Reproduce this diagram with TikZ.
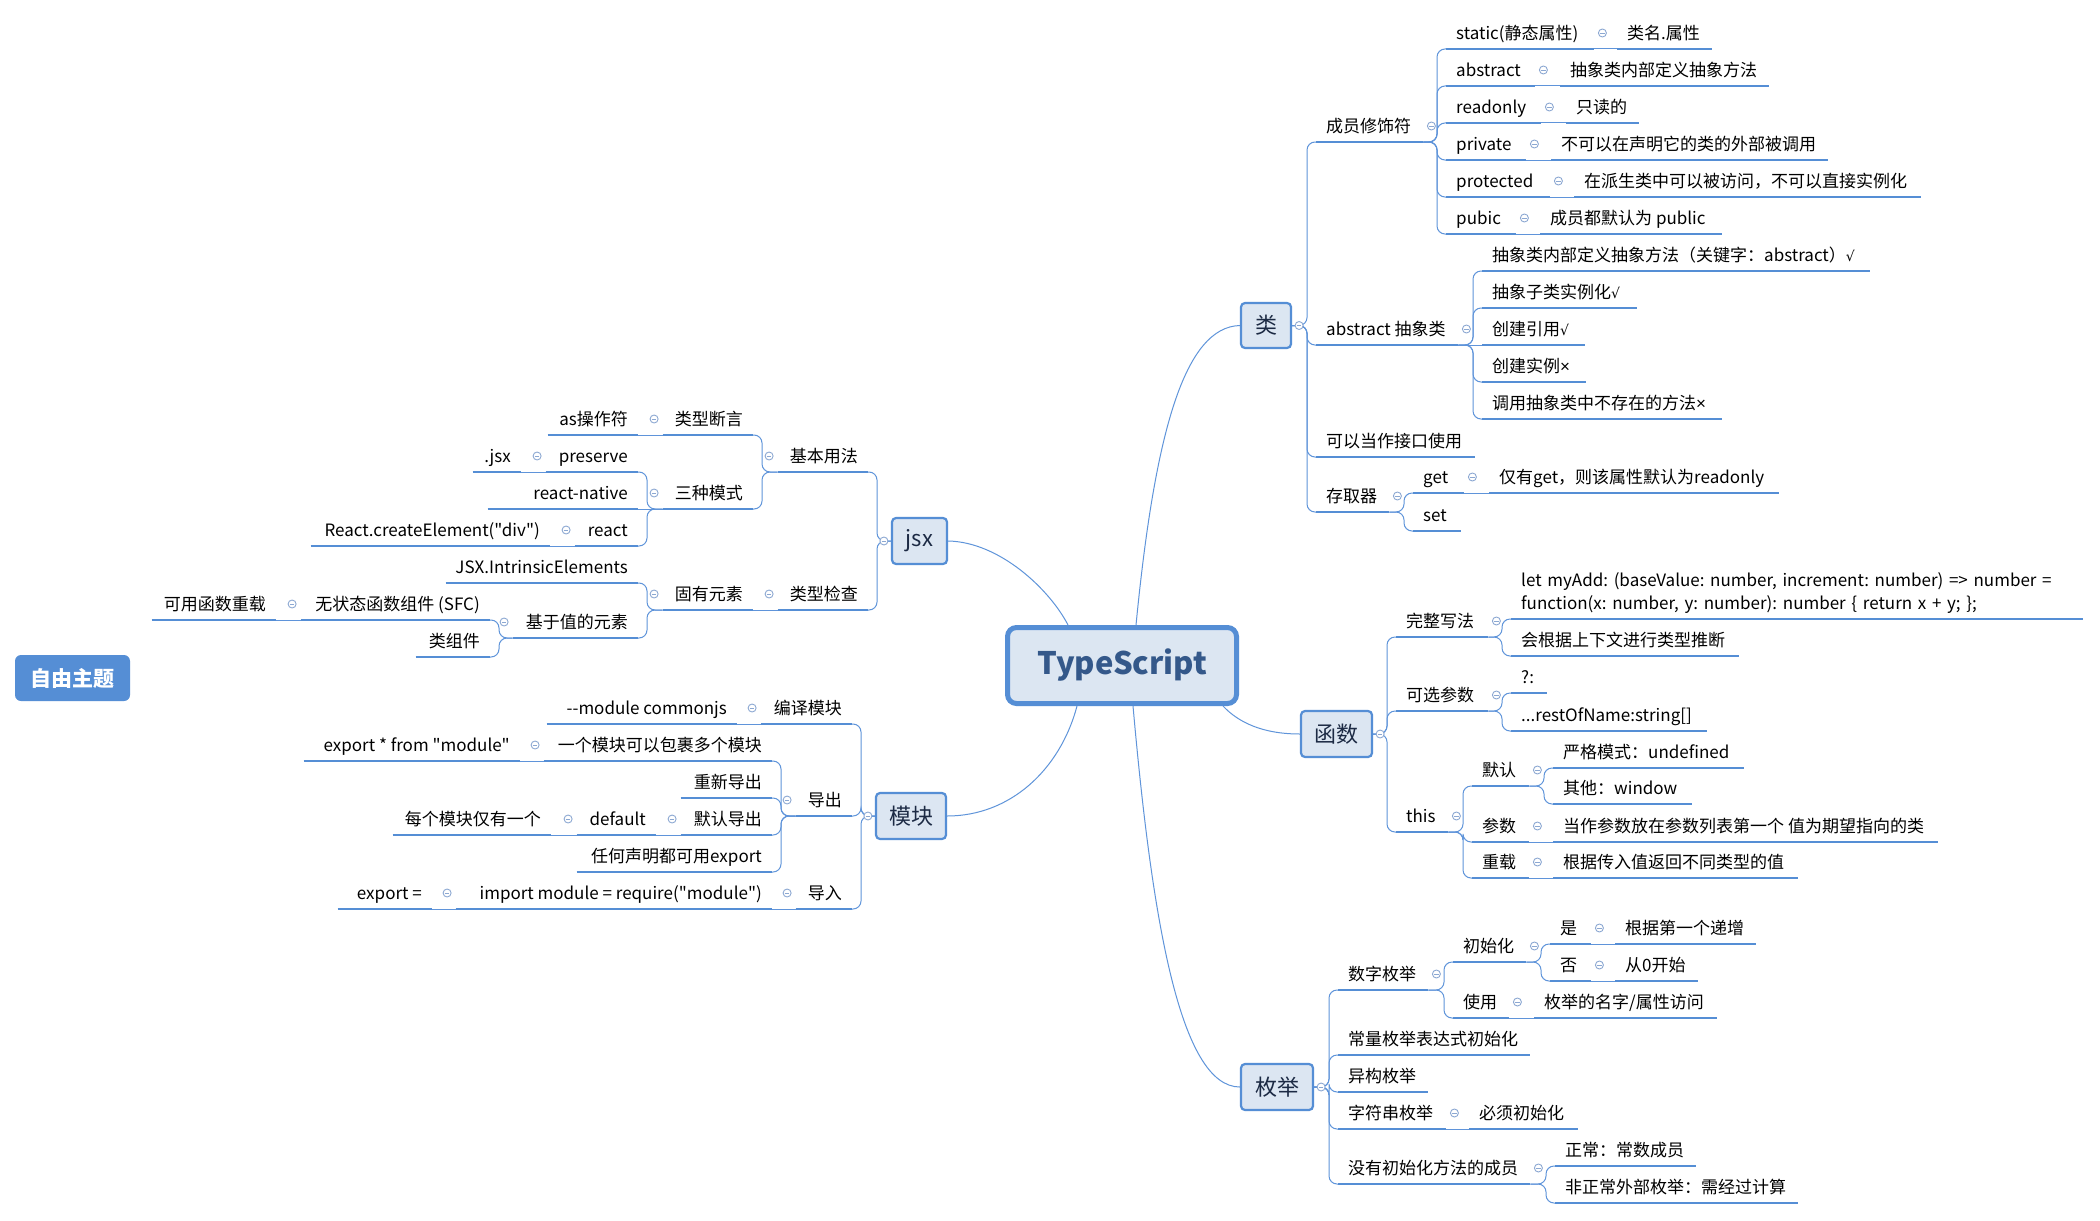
\documentclass[tikz,border=0pt]{standalone}
\usepackage{fontspec}
\newfontfamily\cjk{Noto Sans CJK SC}
\newfontfamily\sym{DejaVu Sans}
\newfontfamily\lib{Liberation Sans}
\frenchspacing
\newcommand\ok{{\sym\fontsize{14}{17}\selectfont √}}
\newcommand\no{{\lib ×}}
\definecolor{ubl}{RGB}{85,142,213}
\definecolor{cbl}{RGB}{95,148,218}
\definecolor{bfill}{RGB}{220,230,242}
\definecolor{btext}{RGB}{28,42,68}
\definecolor{tstext}{RGB}{52,88,138}
\definecolor{icl}{RGB}{140,168,210}
\tikzset{
  uline/.style={draw=ubl, line width=2.6pt},
  topic/.style={inner xsep=10pt, inner ysep=0pt, text height=13pt, text depth=9.5pt,
    font=\cjk\frenchspacing\fontsize{17}{20}\selectfont,
    append after command={(\tikzlastnode.south west) edge[uline] (\tikzlastnode.south east)}},
  conn/.style={draw=cbl, line width=1pt, rounded corners=8pt},
  mainconn/.style={draw=cbl, line width=1pt},
  mainbox/.style={draw=ubl, line width=2.2pt, fill=bfill, rounded corners=4pt, text=btext,
    font=\cjk\fontsize{22}{26}\selectfont, inner sep=0pt},
  coll/.pic={\draw[draw=icl, line width=0.9pt, fill=white] (0,0) circle (4pt);
             \draw[draw=icl, line width=0.9pt] (-2.2pt,0pt) -- (2.2pt,0pt);}
}
% right-side topic: name, x1, x2, y of underline, text
\newcommand\RT[5]{\pgfmathsetmacro\tw{#3-#2-20}\node[topic,anchor=south west] (#1) at (#2,#4) {\makebox[\tw pt][l]{#5}};}
% left-side topic
\newcommand\LT[5]{\pgfmathsetmacro\tw{#3-#2-20}\node[topic,anchor=south east] (#1) at (#3,#4) {\makebox[\tw pt][r]{#5}};}
% connectors
\newcommand\cR[2]{\draw[conn] (#1.south east) -| ([xshift=-9pt]#2.south west) -- (#2.south west);}
\newcommand\cL[2]{\draw[conn] (#1.south west) -| ([xshift=9pt]#2.south east) -- (#2.south east);}
\newcommand\bR[2]{\draw[conn] (#1.east) -| ([xshift=-9pt]#2.south west) -- (#2.south west);}
\newcommand\bL[2]{\draw[conn] (#1.west) -| ([xshift=9pt]#2.south east) -- (#2.south east);}
\newcommand\sR[2]{\draw[conn] (#1.south east) -- (#2.south west);}
\newcommand\sL[2]{\draw[conn] (#1.south west) -- (#2.south east);}
% collapse icons
\newcommand\iR[1]{\pic at ([xshift=8pt,yshift=16pt]#1.south east) {coll};}
\newcommand\iL[1]{\pic at ([xshift=-8.5pt,yshift=16pt]#1.south west) {coll};}
\begin{document}
\begin{tikzpicture}[x=1pt,y=-1pt]
\fill[white] (0,0) rectangle (2100,1220);
\useasboundingbox (0,0) rectangle (2100,1220);

% ---------- main boxes ----------
\node[mainbox, line width=5pt, rounded corners=9pt, minimum width=229pt, minimum height=76pt,
      font=\cjk\bfseries\fontsize{31}{36}\selectfont, text=tstext] (ts) at (1122,665.5) {TypeScript};
\node[mainbox, minimum width=50pt, minimum height=45pt] (lei) at (1266,325.5) {类};
\node[mainbox, minimum width=71pt, minimum height=46pt] (fn) at (1336.5,734) {函数};
\node[mainbox, minimum width=72pt, minimum height=46pt] (en) at (1277,1087) {枚举};
\node[mainbox, minimum width=55pt, minimum height=46pt] (jx) at (919.5,541) {jsx};
\node[mainbox, minimum width=70pt, minimum height=46pt] (mk) at (911,816) {模块};
\node[fill=ubl, rounded corners=6pt, text=white, font=\cjk\bfseries\fontsize{21}{24}\selectfont,
      minimum width=115pt, minimum height=46pt, inner sep=0pt] (free) at (72.5,678) {自由主题};

% ---------- 类 ----------
\RT{c1}{1316}{1423}{142}{成员修饰符}
\RT{c1a}{1446}{1594}{49}{static(静态属性)}
\RT{c1aa}{1617}{1712}{49}{类名.属性}
\RT{c1b}{1446}{1535}{86}{abstract}
\RT{c1bb}{1560}{1769}{86}{抽象类内部定义抽象方法}
\RT{c1c}{1446}{1541}{123}{readonly}
\RT{c1cc}{1566}{1639}{123}{只读的}
\RT{c1d}{1446}{1526}{160}{private}
\RT{c1dd}{1551}{1828}{160}{不可以在声明它的类的外部被调用}
\RT{c1e}{1446}{1550}{197}{protected}
\RT{c1ee}{1574}{1921}{197}{在派生类中可以被访问，不可以直接实例化}
\RT{c1f}{1446}{1516}{234}{pubic}
\RT{c1ff}{1540}{1722}{234}{成员都默认为 public}
\RT{c2}{1316}{1458}{345}{abstract 抽象类}
\RT{c2a}{1482}{1870}{271}{抽象类内部定义抽象方法（关键字：abstract）\ok}
\RT{c2b}{1482}{1637}{308}{抽象子类实例化\ok}
\RT{c2c}{1482}{1585}{345}{创建引用\ok}
\RT{c2d}{1482}{1586}{382}{创建实例\no}
\RT{c2e}{1482}{1722}{419}{调用抽象类中不存在的方法\no}
\RT{c3}{1316}{1475}{457}{可以当作接口使用}
\RT{c4}{1316}{1389}{512}{存取器}
\RT{c4a}{1413}{1464}{493}{get}
\RT{c4aa}{1489}{1779}{493}{仅有get，则该属性默认为readonly}
\RT{c4b}{1413}{1461}{531}{set}

% ---------- 函数 ----------
\RT{f1}{1396}{1488}{637}{完整写法}
\node[topic, text height=, text depth=, inner ysep=5.5pt, text width=552pt, align=left,
      anchor=south west, font=\cjk\frenchspacing\fontsize{17}{23}\selectfont] (f1a) at (1511,619)
  {let myAdd: (baseValue: number, increment: number) => number =\\function(x: number, y: number): number \{ return x + y; \};};
\RT{f1b}{1511}{1739}{656}{会根据上下文进行类型推断}
\RT{f2}{1396}{1488}{711}{可选参数}
\RT{f2a}{1511}{1547}{693}{?:}
\RT{f2b}{1511}{1707}{731}{...restOfName:string[]}
\RT{f3}{1396}{1448}{832}{this}
\RT{f3a}{1472}{1529}{786}{默认}
\RT{f3aa}{1553}{1744}{768}{严格模式：undefined}
\RT{f3ab}{1553}{1692}{804}{其他：window}
\RT{f3b}{1472}{1529}{842}{参数}
\RT{f3bb}{1553}{1938}{842}{当作参数放在参数列表第一个 值为期望指向的类}
\RT{f3c}{1472}{1529}{878}{重载}
\RT{f3cc}{1553}{1798}{878}{根据传入值返回不同类型的值}

% ---------- 枚举 ----------
\RT{e1}{1338}{1428}{990}{数字枚举}
\RT{e1a}{1453}{1526}{962}{初始化}
\RT{e1aa}{1550}{1591}{944}{是}
\RT{e1aaa}{1615}{1756}{944}{根据第一个递增}
\RT{e1ab}{1550}{1591}{981}{否}
\RT{e1aba}{1615}{1698}{981}{从0开始}
\RT{e1b}{1453}{1509}{1018}{使用}
\RT{e1bb}{1534}{1717}{1018}{枚举的名字/属性访问}
\RT{e2}{1338}{1530}{1055}{常量枚举表达式初始化}
\RT{e3}{1338}{1428}{1092}{异构枚举}
\RT{e4}{1338}{1446}{1129}{字符串枚举}
\RT{e4a}{1469}{1578}{1129}{必须初始化}
\RT{e5}{1338}{1530}{1184}{没有初始化方法的成员}
\RT{e5a}{1555}{1696}{1166}{正常：常数成员}
\RT{e5b}{1555}{1798}{1203}{非正常外部枚举：需经过计算}

% ---------- jsx ----------
\LT{j1}{778}{868}{472}{基本用法}
\LT{j1a}{663}{753}{435}{类型断言}
\LT{j1aa}{548}{638}{435}{as操作符}
\LT{j1b}{663}{753}{509}{三种模式}
\LT{j1ba}{546}{638}{472}{preserve}
\LT{j1baa}{473}{521}{472}{.jsx}
\LT{j1bb}{488}{638}{509}{react-native}
\LT{j1bc}{575}{638}{546}{react}
\LT{j1bca}{311}{550}{546}{React.createElement("div")}
\LT{j2}{778}{868}{610}{类型检查}
\LT{j2a}{663}{753}{610}{固有元素}
\LT{j2aa}{446}{638}{583}{JSX.IntrinsicElements}
\LT{j2ab}{513}{638}{638}{基于值的元素}
\LT{j2aba}{301}{490}{620}{无状态函数组件 (SFC)}
\LT{j2abaa}{152}{276}{620}{可用函数重载}
\LT{j2abb}{416}{490}{657}{类组件}

% ---------- 模块 ----------
\LT{m1}{761}{852}{724}{编译模块}
\LT{m1a}{547}{737}{724}{-{}-module commonjs}
\LT{m2}{796}{852}{816}{导出}
\LT{m2a}{544}{772}{761}{一个模块可以包裹多个模块}
\LT{m2aa}{304}{520}{761}{export * from "module"}
\LT{m2b}{681}{772}{798}{重新导出}
\LT{m2c}{681}{772}{835}{默认导出}
\LT{m2ca}{577}{656}{835}{default}
\LT{m2caa}{393}{551}{835}{每个模块仅有一个}
\LT{m2d}{577}{772}{872}{任何声明都可用export}
\LT{m3}{796}{852}{909}{导入}
\LT{m3a}{456}{772}{909}{import module = require("module")}
\LT{m3aa}{338}{432}{909}{export =}

% ---------- main connectors ----------
\draw[mainconn] ([xshift=14pt]ts.north) .. controls (1155,430) and (1185,327) .. (lei.west);
\draw[mainconn] ([xshift=-16pt]ts.south east) .. controls (1238,722) and (1262,734) .. (fn.west);
\draw[mainconn] ([xshift=11pt]ts.south) .. controls (1152,920) and (1180,1087) .. (en.west);
\draw[mainconn] ([xshift=-54pt]ts.north) .. controls (1050,590) and (1000,542) .. (jx.east);
\draw[mainconn] ([xshift=-45pt]ts.south) .. controls (1060,770) and (1010,816) .. (mk.east);

% ---------- branch connectors: 类 ----------
\bR{lei}{c1} \bR{lei}{c2} \bR{lei}{c3} \bR{lei}{c4}
\cR{c1}{c1a} \cR{c1}{c1b} \cR{c1}{c1c} \cR{c1}{c1d} \cR{c1}{c1e} \cR{c1}{c1f}
\sR{c1a}{c1aa} \sR{c1b}{c1bb} \sR{c1c}{c1cc} \sR{c1d}{c1dd} \sR{c1e}{c1ee} \sR{c1f}{c1ff}
\cR{c2}{c2a} \cR{c2}{c2b} \sR{c2}{c2c} \cR{c2}{c2d} \cR{c2}{c2e}
\cR{c4}{c4a} \cR{c4}{c4b} \sR{c4a}{c4aa}
% 函数
\bR{fn}{f1} \bR{fn}{f2} \bR{fn}{f3}
\cR{f1}{f1a} \cR{f1}{f1b}
\cR{f2}{f2a} \cR{f2}{f2b}
\cR{f3}{f3a} \cR{f3}{f3b} \cR{f3}{f3c}
\cR{f3a}{f3aa} \cR{f3a}{f3ab}
\sR{f3b}{f3bb} \sR{f3c}{f3cc}
% 枚举
\bR{en}{e1} \bR{en}{e2} \bR{en}{e3} \bR{en}{e4} \bR{en}{e5}
\cR{e1}{e1a} \cR{e1}{e1b}
\cR{e1a}{e1aa} \cR{e1a}{e1ab}
\sR{e1aa}{e1aaa} \sR{e1ab}{e1aba} \sR{e1b}{e1bb} \sR{e4}{e4a}
\cR{e5}{e5a} \cR{e5}{e5b}
% jsx
\bL{jx}{j1} \bL{jx}{j2}
\cL{j1}{j1a} \cL{j1}{j1b}
\sL{j1a}{j1aa}
\cL{j1b}{j1ba} \sL{j1b}{j1bb} \cL{j1b}{j1bc}
\sL{j1ba}{j1baa} \sL{j1bc}{j1bca}
\sL{j2}{j2a}
\cL{j2a}{j2aa} \cL{j2a}{j2ab}
\cL{j2ab}{j2aba} \cL{j2ab}{j2abb}
\sL{j2aba}{j2abaa}
% 模块
\bL{mk}{m1} \bL{mk}{m2} \bL{mk}{m3}
\sL{m1}{m1a}
\cL{m2}{m2a} \cL{m2}{m2b} \cL{m2}{m2c} \cL{m2}{m2d}
\sL{m2a}{m2aa} \sL{m2c}{m2ca} \sL{m2ca}{m2caa}
\sL{m3}{m3a} \sL{m3a}{m3aa}

% ---------- collapse icons ----------
\pic at ([xshift=7pt]lei.east) {coll};
\pic at ([xshift=7pt]fn.east) {coll};
\pic at ([xshift=7pt]en.east) {coll};
\pic at ([xshift=-7pt]jx.west) {coll};
\pic at ([xshift=-7pt]mk.west) {coll};
\iR{c1} \iR{c1a} \iR{c1b} \iR{c1c} \iR{c1d} \iR{c1e} \iR{c1f} \iR{c2} \iR{c4} \iR{c4a}
\iR{f1} \iR{f2} \iR{f3} \iR{f3a} \iR{f3b} \iR{f3c}
\iR{e1} \iR{e1a} \iR{e1aa} \iR{e1ab} \iR{e1b} \iR{e4} \iR{e5}
\iL{j1} \iL{j1a} \iL{j1b} \iL{j1ba} \iL{j1bc} \iL{j2} \iL{j2a} \iL{j2ab} \iL{j2aba}
\iL{m1} \iL{m2} \iL{m2a} \iL{m2c} \iL{m2ca} \iL{m3} \iL{m3a}
\end{tikzpicture}
\end{document}
